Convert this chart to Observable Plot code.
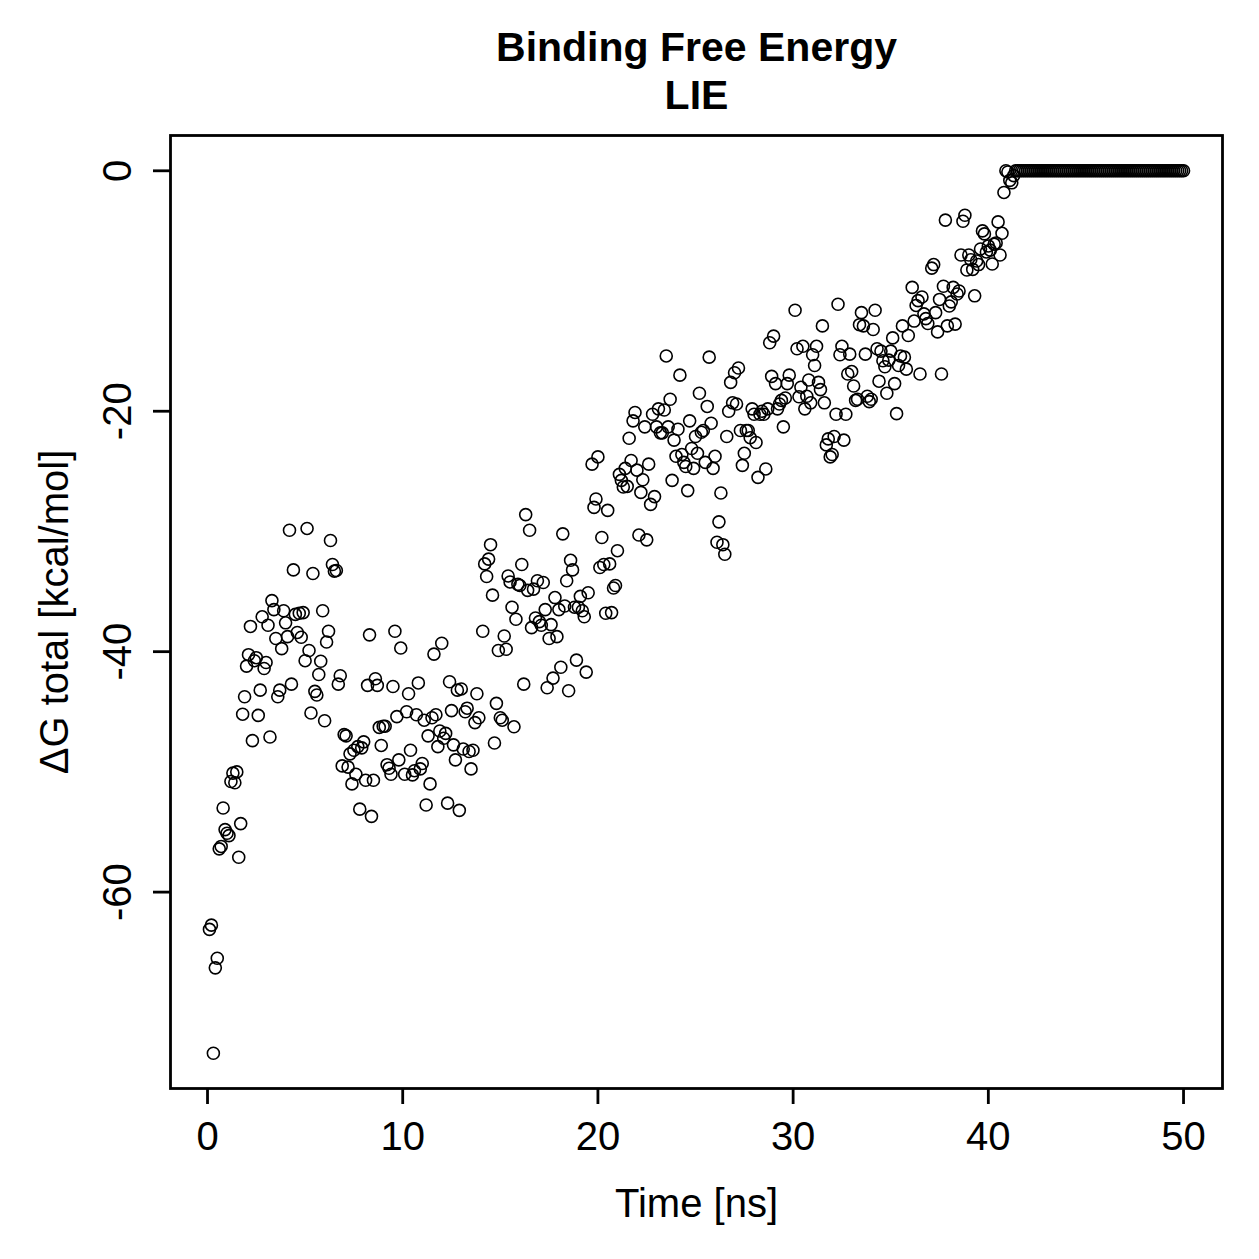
<!DOCTYPE html>
<html>
<head>
<meta charset="utf-8">
<script src="https://cdn.jsdelivr.net/npm/d3@7"></script>
<script src="https://cdn.jsdelivr.net/npm/@observablehq/plot@0.6"></script>
<style>
  body { margin: 0; background: #fff; }
  #chart svg { display: block; }
</style>
</head>
<body>
<div id="chart"></div>
<script>
// Simulation time (ns) of each analysed frame
const timeNs = [
  0.1,0.2,0.3,0.4,0.5,0.6,0.7,0.8,0.9,
  1.0,1.1,1.2,1.3,1.4,1.5,1.6,1.7,1.8,1.9,
  2.0,2.1,2.2,2.3,2.4,2.5,2.6,2.7,2.8,2.9,
  3.0,3.1,3.2,3.3,3.4,3.5,3.6,3.7,3.8,3.9,
  4.0,4.1,4.2,4.3,4.4,4.5,4.6,4.7,4.8,4.9,
  5.0,5.1,5.2,5.3,5.4,5.5,5.6,5.7,5.8,5.9,
  6.0,6.1,6.2,6.3,6.4,6.5,6.6,6.7,6.8,6.9,
  7.0,7.1,7.2,7.3,7.4,7.5,7.6,7.7,7.8,7.9,
  8.0,8.1,8.2,8.3,8.4,8.5,8.6,8.7,8.8,8.9,
  9.0,9.1,9.2,9.3,9.4,9.5,9.6,9.7,9.8,9.9,
  10.1,10.2,10.3,10.4,10.5,10.6,10.7,10.8,10.9,
  11.0,11.1,11.2,11.3,11.4,11.5,11.6,11.7,11.8,11.9,
  12.0,12.1,12.2,12.3,12.4,12.5,12.6,12.7,12.8,12.9,
  13.0,13.1,13.2,13.3,13.4,13.5,13.6,13.7,13.8,13.9,
  14.1,14.2,14.3,14.4,14.5,14.6,14.7,14.8,14.9,
  15.0,15.1,15.2,15.3,15.4,15.5,15.6,15.7,15.8,15.9,
  16.0,16.1,16.2,16.3,16.4,16.5,16.6,16.7,16.8,16.9,
  17.0,17.1,17.2,17.3,17.4,17.5,17.6,17.7,17.8,17.9,
  18.0,18.1,18.2,18.3,18.4,18.5,18.6,18.7,18.8,18.9,
  19.0,19.1,19.2,19.3,19.4,19.5,
  19.7,19.8,19.9,
  20.0,20.1,20.2,20.3,20.4,20.5,20.6,20.7,20.8,20.9,
  21.0,21.1,21.2,21.3,21.4,21.5,21.6,21.7,21.8,21.9,
  22.0,22.1,22.2,22.3,22.4,22.5,22.6,22.7,22.8,22.9,
  23.0,23.1,23.2,23.3,23.4,23.5,23.6,23.7,23.8,23.9,
  24.0,24.1,24.2,24.3,24.4,24.5,24.6,24.7,24.8,24.9,
  25.0,25.1,25.2,25.3,25.4,25.5,25.6,25.7,25.8,25.9,
  26.0,26.1,26.2,26.3,26.4,26.5,26.6,26.7,26.8,26.9,
  27.0,27.1,27.2,27.3,27.4,27.5,27.6,27.7,27.8,27.9,
  28.0,28.1,28.2,28.3,28.4,28.5,28.6,28.7,28.8,28.9,
  29.0,29.1,29.2,29.3,29.4,29.5,29.6,29.7,29.8,
  30.1,30.2,30.3,30.4,30.5,30.6,30.7,30.8,30.9,
  31.0,31.1,31.2,31.3,31.4,31.5,31.6,31.7,31.8,31.9,
  32.0,32.1,32.2,32.3,32.4,32.5,32.6,32.7,32.8,32.9,
  33.0,33.1,33.2,33.3,33.4,33.5,33.6,33.7,33.8,33.9,
  34.0,34.1,34.2,34.3,34.4,34.5,34.6,34.7,34.8,34.9,
  35.0,35.1,35.2,35.3,35.4,35.5,35.6,35.7,35.8,35.9,
  36.1,36.2,36.3,36.4,36.5,36.6,36.7,36.8,36.9,
  37.1,37.2,37.3,37.4,37.5,37.6,37.7,37.8,37.9,
  38.0,38.1,38.2,38.3,38.4,38.5,38.6,38.7,38.8,38.9,
  39.0,39.1,39.2,39.3,39.4,39.5,39.6,39.7,39.8,39.9,
  40.0,40.1,40.2,40.3,40.4,40.5,40.6,40.7,40.8,40.9,
  41.0,41.1,41.2,41.3,
  41.4,41.5,41.6,41.7,41.8,41.9,
  42.0,42.1,42.2,42.3,42.4,42.5,42.6,42.7,42.8,42.9,
  43.0,43.1,43.2,43.3,43.4,43.5,43.6,43.7,43.8,43.9,
  44.0,44.1,44.2,44.3,44.4,44.5,44.6,44.7,44.8,44.9,
  45.0,45.1,45.2,45.3,45.4,45.5,45.6,45.7,45.8,45.9,
  46.0,46.1,46.2,46.3,46.4,46.5,46.6,46.7,46.8,46.9,
  47.0,47.1,47.2,47.3,47.4,47.5,47.6,47.7,47.8,47.9,
  48.0,48.1,48.2,48.3,48.4,48.5,48.6,48.7,48.8,48.9,
  49.0,49.1,49.2,49.3,49.4,49.5,49.6,49.7,49.8,49.9,
  50.0
];

// LIE binding free energy estimate (kcal/mol) per frame
const deltaG = [
  -63.1,-62.75,-73.4,-66.3,-65.5,-56.4,-56.2,-53,-54.8,
  -55.1,-55.3,-50.8,-50.1,-50.9,-50.0,-57.1,-54.3,-45.2,-43.75,
  -41.2,-40.25,-37.9,-47.4,-40.75,-40.5,-45.3,-43.2,-37.1,-41.4,
  -40.9,-37.8,-47.1,-35.75,-36.5,-38.9,-43.75,-43.2,-39.75,-36.6,
  -37.6,-38.75,-29.9,-42.7,-33.2,-36.9,-38.4,-36.8,-38.8,-36.75,
  -40.75,-29.75,-39.9,-45.1,-33.5,-43.3,-43.6,-41.9,-40.8,-36.6,
  -45.75,-39.2,-38.3,-30.75,-32.75,-33.3,-33.25,-42.7,-42.0,-49.5,
  -46.9,-47.0,-49.6,-48.5,-51.0,-48.2,-50.2,-47.9,-53.1,-48.0,
  -47.5,-50.7,-42.8,-38.6,-53.7,-50.7,-42.25,-42.8,-46.3,-47.8,
  -46.2,-46.2,-49.4,-49.7,-50.2,-42.9,-38.3,-45.4,-49.0,-39.7,
  -50.2,-45.0,-43.5,-48.2,-50.25,-49.9,-45.25,-42.6,-49.75,
  -49.3,-45.7,-52.75,-47.0,-51.0,-45.5,-40.2,-45.25,-47.9,-46.6,
  -39.3,-47.2,-46.8,-52.6,-42.5,-44.9,-47.75,-49.0,-43.2,-53.2,
  -43.1,-48.1,-45.0,-44.7,-48.3,-49.75,-48.2,-45.9,-43.5,-45.5,
  -38.3,-32.7,-33.75,-32.3,-31.1,-35.3,-47.6,-44.3,-39.9,
  -45.5,-45.7,-38.7,-39.8,-33.7,-34.2,-36.3,-46.25,-37.3,-34.4,
  -34.5,-32.75,-42.7,-28.6,-34.9,-29.9,-38.0,-34.8,-37.2,-34.1,
  -37.5,-37.8,-34.25,-36.5,-43.0,-38.9,-37.75,-42.2,-35.5,-38.75,
  -36.5,-41.3,-30.2,-36.2,-34.1,-43.25,-32.4,-33.2,-36.3,-40.7,
  -36.3,-35.4,-36.6,-37.1,-41.7,-35.1,
  -24.4,-28.0,-27.3,
  -23.8,-33.0,-30.5,-32.75,-36.8,-28.25,-32.7,-36.75,-34.7,-34.5,
  -31.6,-25.25,-25.75,-26.3,-24.75,-26.25,-22.25,-24.1,-20.8,-20.1,
  -24.9,-30.3,-26.75,-25.7,-21.3,-30.7,-24.4,-27.75,-20.25,-27.1,
  -21.3,-19.8,-21.8,-21.8,-19.9,-15.4,-21.3,-19.0,-25.75,-22.4,
  -23.75,-21.5,-17.0,-23.6,-24.25,-24.6,-26.6,-20.8,-23.1,-24.75,
  -22.1,-23.5,-18.5,-21.75,-21.6,-24.25,-19.6,-15.5,-21.0,-24.75,
  -23.75,-30.9,-29.2,-26.8,-31.1,-31.9,-22.1,-20.0,-17.6,-19.3,
  -16.8,-19.4,-16.4,-21.6,-24.5,-23.5,-21.6,-21.6,-22.2,-19.8,
  -20.25,-22.6,-25.5,-20.25,-20.0,-20.25,-24.8,-19.8,-14.3,-17.1,
  -13.75,-17.7,-19.8,-19.4,-19.1,-21.3,-18.9,-17.7,-17.0,
  -11.6,-14.8,-18.8,-18.0,-14.6,-19.8,-18.75,-17.4,-19.3,
  -15.3,-16.2,-14.6,-17.6,-18.2,-12.9,-19.3,-22.8,-22.3,-23.8,
  -23.6,-22.1,-20.25,-11.1,-15.3,-14.6,-22.4,-20.25,-16.9,-15.25,
  -16.7,-17.9,-19.1,-19.0,-12.8,-11.8,-12.9,-15.25,-18.75,-19.2,
  -19.0,-13.2,-11.6,-14.8,-17.5,-15.0,-15.8,-16.3,-18.5,-15.75,
  -15.0,-13.9,-17.7,-20.2,-16.2,-15.4,-12.9,-15.5,-16.5,-13.7,
  -9.7,-12.5,-11.2,-10.8,-16.9,-10.5,-11.9,-12.3,-12.7,
  -8.1,-7.8,-11.8,-13.4,-10.7,-16.9,-9.6,-4.1,-12.9,
  -11.25,-10.9,-9.7,-12.75,-10.25,-10.0,-7.0,-4.2,-3.7,-8.25,
  -7.0,-7.4,-8.2,-10.4,-7.5,-7.8,-6.5,-5.0,-5.25,-6.75,
  -6.25,-6.6,-7.75,-6.1,-6.0,-4.25,-7.0,-5.2,-1.8,0,
  -0.1,-0.8,-1.0,-0.4,
  0,0,0,0,0,0,
  0,0,0,0,0,0,0,0,0,0,
  0,0,0,0,0,0,0,0,0,0,
  0,0,0,0,0,0,0,0,0,0,
  0,0,0,0,0,0,0,0,0,0,
  0,0,0,0,0,0,0,0,0,0,
  0,0,0,0,0,0,0,0,0,0,
  0,0,0,0,0,0,0,0,0,0,
  0,0,0,0,0,0,0,0,0,0,
  0
];

const xTicks = [0, 10, 20, 30, 40, 50];
const yTicks = [0, -20, -40, -60];
const titleLines = ["Binding Free Energy", "LIE"];
const xLabel = "Time [ns]";
const yLabel = "ΔG total [kcal/mol]";

const frames = timeNs.map((t, i) => ({t, dG: deltaG[i]}));

// extend each axis 4% beyond the data range on both sides
const padded = ([lo, hi]) => [lo - (hi - lo) * 0.04, hi + (hi - lo) * 0.04];

const font = "'Liberation Sans', Arial, Helvetica, sans-serif";
const textSize = 40;

const chart = Plot.plot({
  width: 1259,
  height: 1259,
  marginLeft: 170,
  marginRight: 37,
  marginTop: 135,
  marginBottom: 171,
  style: {fontFamily: font, background: "white", color: "black", overflow: "visible"},
  x: {domain: padded(d3.extent(timeNs))},
  y: {domain: padded(d3.extent(deltaG))},
  marks: [
    Plot.frame({stroke: "black", strokeWidth: 2.8}),
    Plot.axisX({
      ticks: xTicks, tickSize: 16, tickPadding: 17, strokeWidth: 2.8,
      tickFormat: d => String(d), fontSize: textSize, label: null
    }),
    Plot.axisY({
      ticks: yTicks, tickSize: 17, strokeWidth: 2.8,
      tickFormat: () => "", label: null
    }),
    // rotated y tick labels, plain hyphen minus
    Plot.text(yTicks, {
      y: d => d, frameAnchor: "left", dx: -52, rotate: -90,
      text: d => String(d), fontSize: textSize,
      textAnchor: "middle", lineAnchor: "middle"
    }),
    Plot.dot(frames, {x: "t", y: "dG", r: 6, stroke: "black", strokeWidth: 1.6, fill: "none"}),
    Plot.text([xLabel], {frameAnchor: "bottom", dy: 116, fontSize: textSize, lineAnchor: "middle"}),
    Plot.text([yLabel], {
      frameAnchor: "left", dx: -115, rotate: -90, fontSize: textSize,
      textAnchor: "middle", lineAnchor: "middle"
    }),
    Plot.text([titleLines[0]], {frameAnchor: "top", dy: -88, fontSize: 41, fontWeight: "bold", lineAnchor: "middle"}),
    Plot.text([titleLines[1]], {frameAnchor: "top", dy: -40, fontSize: 41, fontWeight: "bold", lineAnchor: "middle"})
  ]
});

document.getElementById("chart").appendChild(chart);
</script>
</body>
</html>
